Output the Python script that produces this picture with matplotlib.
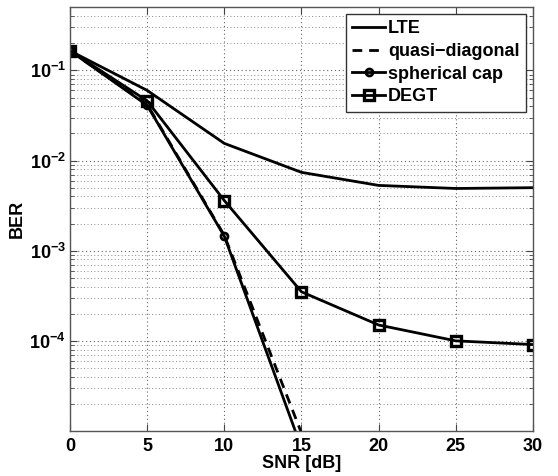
import numpy as np
import matplotlib
matplotlib.use("Agg")
import matplotlib.pyplot as plt
from matplotlib.ticker import LogLocator, FixedLocator, FixedFormatter, NullFormatter

plt.rcParams['font.family'] = 'Liberation Sans'
plt.rcParams['font.weight'] = 'bold'
plt.rcParams['mathtext.fontset'] = 'custom'
plt.rcParams['mathtext.rm'] = 'Liberation Sans:bold'
plt.rcParams['mathtext.bf'] = 'Liberation Sans:bold'

# --- data ---
snr = [0, 5, 10, 15, 20, 25, 30]
ber_lte = [0.165, 0.060, 0.0155, 0.0074, 0.0053, 0.0049, 0.0050]
snr_short = [0, 5, 10, 15]
ber_quasi = [0.165, 0.042, 0.00148, 9.5e-6]
ber_sphcap = [0.165, 0.041, 0.00145, 6.5e-6]
ber_degt = [0.165, 0.046, 0.0036, 3.5e-4, 1.5e-4, 1.0e-4, 9.1e-5]

xticks = [0, 5, 10, 15, 20, 25, 30]
yticks = [1e-4, 1e-3, 1e-2, 1e-1]
ytick_labels = [r'$\mathbf{10^{-4}}$', r'$\mathbf{10^{-3}}$',
                r'$\mathbf{10^{-2}}$', r'$\mathbf{10^{-1}}$']

fig = plt.figure(figsize=(5.58, 4.76), dpi=100)
ax = fig.add_axes([0.1254, 0.0945, 0.8297, 0.890])

lw = 2.0
ax.plot(snr, ber_lte, color='black', lw=lw, label='LTE')
ax.plot(snr_short, ber_quasi, color='black', lw=lw, ls=(0, (3.5, 2.5)),
        label='quasi\u2212diagonal')
ax.plot(snr_short, ber_sphcap, color='black', lw=lw, marker='o', ms=5,
        mfc='none', mew=2.0, label='spherical cap')
ax.plot(snr, ber_degt, color='black', lw=lw, marker='s', ms=7,
        mfc='none', mew=2.4, label='DEGT')

ax.set_yscale('log')
ax.set_xlim(0, 30)
ax.set_ylim(1e-5, 0.5)
ax.xaxis.set_major_locator(FixedLocator(xticks))
ax.yaxis.set_major_locator(FixedLocator(yticks))
ax.yaxis.set_major_formatter(FixedFormatter(ytick_labels))
ax.yaxis.set_minor_locator(LogLocator(base=10, subs=np.arange(2, 10)))
ax.yaxis.set_minor_formatter(NullFormatter())

ax.tick_params(axis='both', which='both', direction='in', top=True, right=True,
               labelsize=13, color='#444444')
ax.tick_params(which='major', length=5)
ax.tick_params(which='minor', length=3)
ax.tick_params(axis='x', pad=5)
ax.tick_params(axis='y', pad=3)

ax.grid(True, which='major', ls=(0, (1, 2.5)), color='#666666', lw=0.8)
ax.grid(True, which='minor', axis='y', ls=(0, (1, 2.5)), color='#888888', lw=0.7)
for sp in ax.spines.values():
    sp.set_color('#555555')
    sp.set_linewidth(1.0)

ax.set_xlabel('SNR [dB]', fontsize=13, fontweight='bold', labelpad=0)
ax.set_ylabel('BER', fontsize=13, fontweight='bold', labelpad=0)
ax.yaxis.set_label_coords(-0.095, 0.5)

leg = ax.legend(loc='upper right', bbox_to_anchor=(0.985, 0.985), fontsize=13,
                fancybox=False, framealpha=1, edgecolor='#333333',
                handlelength=1.85, handletextpad=0.15, borderpad=0.35,
                labelspacing=0.32, borderaxespad=0.0)
leg.get_frame().set_linewidth(1.0)

fig.savefig('out.png', dpi=100)
